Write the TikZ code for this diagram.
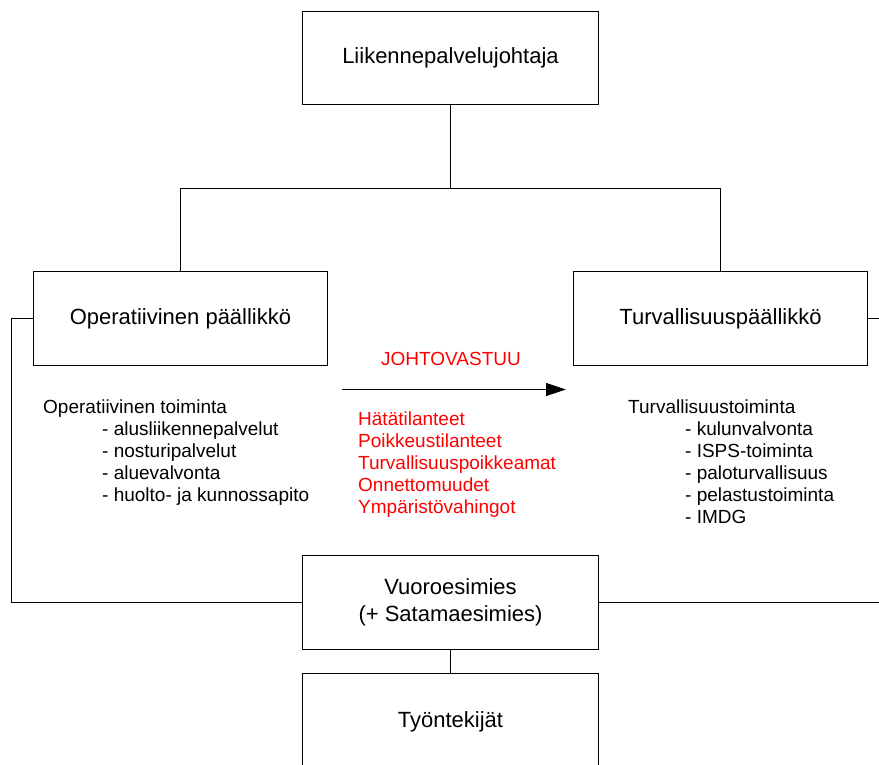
\documentclass[tikz,border=0pt]{standalone}
\usepackage{fontspec}
\setmainfont{Liberation Sans}
\usetikzlibrary{arrows.meta}
\begin{document}
\begin{tikzpicture}[x=1pt,y=-1pt,
  box/.style={draw=black,line width=1pt,rectangle,inner sep=0pt,minimum width=296pt,minimum height=94pt,font=\fontsize{22}{27}\selectfont,align=center},
  conn/.style={draw=black,line width=1pt},
  lst/.style={font=\fontsize{19}{22}\selectfont,align=left,inner sep=0pt,anchor=base west},
  redtext/.style={text=red}
]
\useasboundingbox (0,0) rectangle (879,765);
\clip (0,0) rectangle (879,765);
\fill[white] (0,0) rectangle (879,765);

% boxes
\node[box,minimum height=93pt] (top) at (450.5,58) {Liikennepalvelujohtaja};
\node[box,minimum width=294pt] (op) at (180.5,318.5) {Operatiivinen päällikkö};
\node[box,minimum width=294pt] (tu) at (720.5,318.5) {Turvallisuuspäällikkö};
\node[box] (vu) at (450.5,602.5) {Vuoroesimies\\(+ Satamaesimies)};
\node[box,minimum height=96pt] (ty) at (450.5,721.5) {Työntekijät};

% connector coordinates
\coordinate (bus) at (450.5,188.5);
\coordinate (lc) at (11.5,318.5);
\coordinate (rt) at (885,318.5);
\coordinate (rb) at (885,602.5);
\coordinate (a1) at (342,389.5);
\coordinate (a2) at (566,389.5);

% connectors
\draw[conn] (top.south) -- (bus);
\draw[conn] (op.north) |- (bus) -| (tu.north);
\draw[conn] (op.west) -- (lc) |- (vu.west);
\draw[conn] (tu.east) -- (rt);
\draw[conn] (vu.east) -- (rb);
\draw[conn] (vu.south) -- (ty.north);
\draw[conn,-{Triangle[length=20pt,width=13pt]}] (a1) -- (a2);

% texts (base anchor = baseline of last line)
\node[lst,redtext,anchor=base] (jv) at (451,365) {JOHTOVASTUU};
\node[lst] (ol) at (43,501) {Operatiivinen toiminta\\
\hspace*{59pt}- alusliikennepalvelut\\
\hspace*{59pt}- nosturipalvelut\\
\hspace*{59pt}- aluevalvonta\\
\hspace*{59pt}- huolto- ja kunnossapito};
\node[lst,redtext,font=\fontsize{19}{22.2}\selectfont] (rl) at (358,513.8) {Hätätilanteet\\
Poikkeustilanteet\\
Turvallisuuspoikkeamat\\
Onnettomuudet\\
Ympäristövahingot};
\node[lst] (tl) at (628,523) {Turvallisuustoiminta\\
\hspace*{57pt}- kulunvalvonta\\
\hspace*{57pt}- ISPS-toiminta\\
\hspace*{57pt}- paloturvallisuus\\
\hspace*{57pt}- pelastustoiminta\\
\hspace*{57pt}- IMDG};
\end{tikzpicture}
\end{document}
